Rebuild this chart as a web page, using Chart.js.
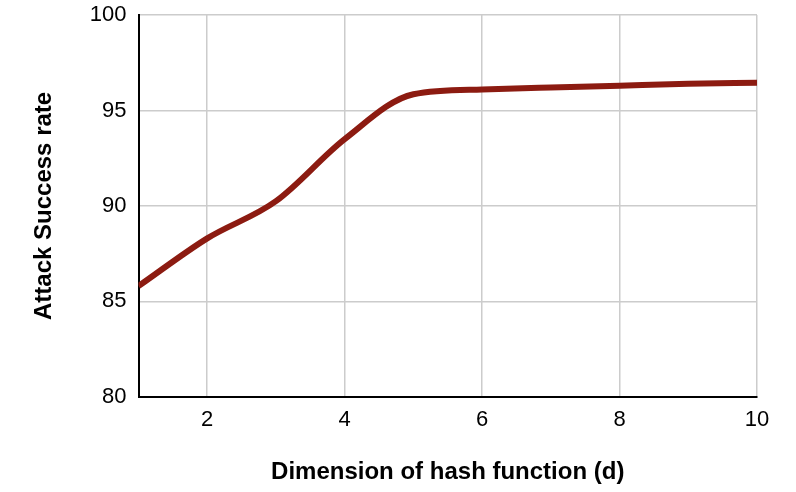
<!DOCTYPE html>
<html>
<head>
<meta charset="utf-8">
<script src="https://cdn.jsdelivr.net/npm/chart.js@4"></script>
<style>
html,body{margin:0;padding:0;background:#fff;}
#wrap{width:796px;height:492px;}
</style>
</head>
<body>
<div id="wrap"><canvas id="c" width="796" height="492"></canvas></div>
<script>
const dims = [1, 2, 3, 4, 5, 6, 7, 8, 9, 10];
const successRate = [85.8, 88.3, 90.25, 93.5, 95.85, 96.1, 96.2, 96.3, 96.4, 96.45];
const xTicks = [2, 4, 6, 8, 10];
const yTicks = [80, 85, 90, 95, 100];

const FONT = "'Liberation Sans', Arial, sans-serif";

new Chart(document.getElementById('c'), {
  type: 'line',
  data: {
    datasets: [{
      label: 'Attack Success rate',
      data: dims.map((d, i) => ({x: d, y: successRate[i]})),
      borderColor: '#8c1b11',
      borderWidth: 6,
      pointRadius: 0,
      cubicInterpolationMode: 'monotone',
      fill: false
    }]
  },
  options: {
    responsive: false,
    animation: false,
    layout: {padding: {top: 15, right: 39, bottom: 5, left: 16}},
    plugins: {legend: {display: false}, tooltip: {enabled: false}},
    scales: {
      x: {
        type: 'linear', min: 1, max: 10,
        afterBuildTicks: s => { s.ticks = xTicks.map(v => ({value: v})); },
        grid: {color: '#cccccc', lineWidth: 1.5, drawTicks: false},
        border: {display: true, color: '#000', width: 2},
        ticks: {color: '#000', font: {family: FONT, size: 22}, padding: 10},
        title: {display: true, text: 'Dimension of hash function (d)', color: '#000',
                font: {family: FONT, size: 24, weight: 'bold'}, padding: {top: 15, bottom: 0}}
      },
      y: {
        min: 80, max: 100,
        afterBuildTicks: s => { s.ticks = yTicks.map(v => ({value: v})); },
        afterFit: s => { s.paddingTop = 0; },
        grid: {color: '#cccccc', lineWidth: 1.5, drawTicks: false},
        border: {display: true, color: '#000', width: 2},
        ticks: {color: '#000', font: {family: FONT, size: 22}, padding: 12},
        title: {display: true, text: 'Attack Success rate', color: '#000',
                font: {family: FONT, size: 24, weight: 'bold'}, padding: {top: 14, bottom: 19}}
      }
    }
  }
});
</script>
</body>
</html>
